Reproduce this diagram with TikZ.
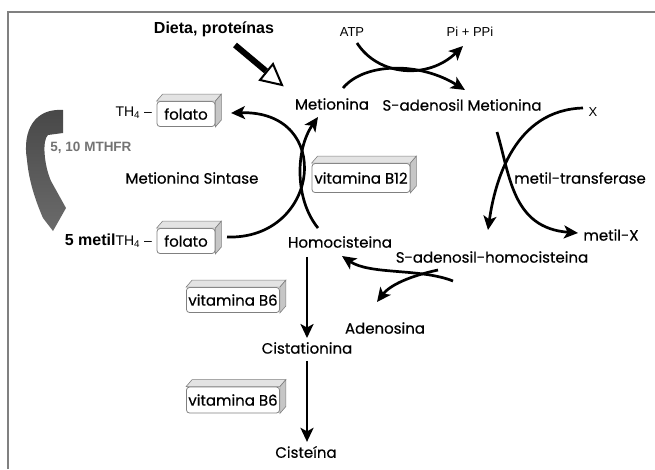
\documentclass[tikz,border=0pt]{standalone}
\usepackage{fontspec}
\setmainfont{Poppins}[FakeBold=0.4]
\newfontfamily\arial{Liberation Sans}
\usetikzlibrary{arrows.meta}

\tikzset{
    rotulo/.style={font=\fontsize{15}{17}\selectfont, text=black, inner sep=1pt},
    pequeno/.style={font=\arial\fontsize{13}{15}\selectfont, inner sep=1pt},
    negrito/.style={font=\arial\bfseries\fontsize{16}{18}\selectfont, inner sep=1pt},
    seta/.style={line width=2.7pt, -{Stealth[length=14pt, width=13pt, inset=3.5pt]}},
    caixa/.style={draw=gray, fill=white, rounded corners=3pt, line width=0.8pt,
        font=\fontsize{15}{17}\selectfont, inner sep=0pt}
}

% 立体标签盒: 名称, 位置, 宽, 高, 文字
\newcommand{\caixa}[5]{%
    \node[caixa, minimum width=#3, minimum height=#4] (#1) at (#2) {#5};
    \filldraw[draw=gray, fill=gray!22, line width=0.6pt] (#1.north west) -- ([shift={(6,-7)}]#1.north west)
        -- ([shift={(6,-7)}]#1.north east) -- (#1.north east) -- cycle;
    \filldraw[draw=gray, fill=gray!45, line width=0.6pt] (#1.north east) -- ([shift={(6,-7)}]#1.north east)
        -- ([shift={(6,-7)}]#1.south east) -- (#1.south east) -- cycle;
}

\begin{document}
\begin{tikzpicture}[>=Stealth, x=1pt, y=-1pt]
    \useasboundingbox (0,0) rectangle (655,469);
    % 边框
    \draw[gray, line width=1.6pt] (8,469) -- (8,12) -- (655,12);

    % 饮食蛋白质
    \node[negrito] (dieta) at (214,29) {Dieta, proteínas};
    \coordinate (d1) at (235,45);
    \coordinate (d2) at (266,71);
    \coordinate (dp) at (282,85);
    \draw[line width=6pt] (d1) -- (d2);
    \draw[line width=2pt, fill=white, line join=miter] (260,80) -- (273,64) -- (dp) -- cycle;

    % 代谢物
    \node[rotulo] (met) at (332,104) {Metionina};
    \node[rotulo] (sam) at (462,105) {S-adenosil Metionina};
    \node[rotulo] (hcy) at (340,242) {Homocisteina};
    \node[rotulo] (sah) at (492,257) {S-adenosil-homocisteina};
    \node[rotulo] (ado) at (385,328) {Adenosina};
    \node[rotulo] (cysta) at (307,348) {Cistationina};
    \node[rotulo] (cys) at (306,452) {Cisteína};
    \node[rotulo] (mtrans) at (580,178) {metil-transferase};
    \node[rotulo] (metx) at (611,235) {metil-X};
    \node[rotulo] (msint) at (192,178) {Metionina Sintase};
    \node[pequeno] (atp) at (352,32) {ATP};
    \node[pequeno] (pi) at (470,32) {Pi + PPi};
    \node[pequeno] (xx) at (593,112) {X};

    % 维生素盒
    \caixa{folA}{186,114}{58pt}{25pt}{folato}
    \caixa{folB}{186,241}{58pt}{25pt}{folato}
    \caixa{b12}{361,178}{98pt}{29pt}{vitamina B12}
    \caixa{b6a}{233,300}{93pt}{25pt}{vitamina B6}
    \caixa{b6b}{233,400}{93pt}{26pt}{vitamina B6}

    % 叶酸
    \node[pequeno, font=\arial\fontsize{14}{16}\selectfont, anchor=east] (tha) at (153,113) {TH\textsubscript{4} –};
    \node[pequeno, font=\arial\fontsize{14}{16}\selectfont, anchor=east] (thb) at (153,241)
        {{\bfseries\fontsize{16}{18}\selectfont 5 metil}TH\textsubscript{4} –};
    \shade[top color=black!72, bottom color=black!58]
        (63,110) .. controls (35,108) and (22,130) .. (27,160)
        .. controls (29,182) and (36,202) .. (43,218) -- (53,231) -- (66,208) -- (51,181)
        .. controls (44,165) and (42,140) .. (48,135) -- (63,133) -- cycle;
    \node[font=\arial\bfseries\fontsize{13.5}{15}\selectfont, text=black!55] (mthfr) at (91,148) {5, 10 MTHFR};

    % 弧线端点
    \coordinate (atpA) at (357,43);  \coordinate (piB) at (463,46);
    \coordinate (metA) at (343,88);  \coordinate (samB) at (465,90);
    \coordinate (xA) at (583,108);   \coordinate (sahB) at (488,230);
    \coordinate (samA) at (497,132); \coordinate (metxB) at (578,233);
    \coordinate (sahA) at (453,281); \coordinate (hcyB) at (342,256);
    \coordinate (sahC) at (438,270); \coordinate (adoB) at (377,302);
    \coordinate (folBA) at (227,237); \coordinate (folAB) at (231,113);
    \coordinate (hcyA) at (318,228); \coordinate (metB) at (318,117);

    % 反应箭头
    \draw[seta] (atpA) .. controls (378,76) and (428,80) .. (piB);
    \draw[seta] (metA) .. controls (365,62) and (420,62) .. (samB);
    \draw[seta] (xA) .. controls (515,110) and (495,180) .. (sahB);
    \draw[seta] (samA) .. controls (510,175) and (512,228) .. (metxB);
    \draw[seta] (sahA) .. controls (420,268) and (370,275) .. (hcyB);
    \draw[seta] (sahC) .. controls (410,276) and (390,285) .. (adoB);
    \draw[seta] (folBA) .. controls (320,240) and (335,110) .. (folAB);
    \draw[seta] (hcyA) .. controls (295,200) and (295,150) .. (metB);
    \draw[seta, shorten <=8pt, shorten >=3pt] (hcy.south -| cysta) -- (cysta.north);
    \draw[seta, shorten <=6pt, shorten >=3pt] (cysta.south) -- (cys.north -| cysta);
\end{tikzpicture}
\end{document}
